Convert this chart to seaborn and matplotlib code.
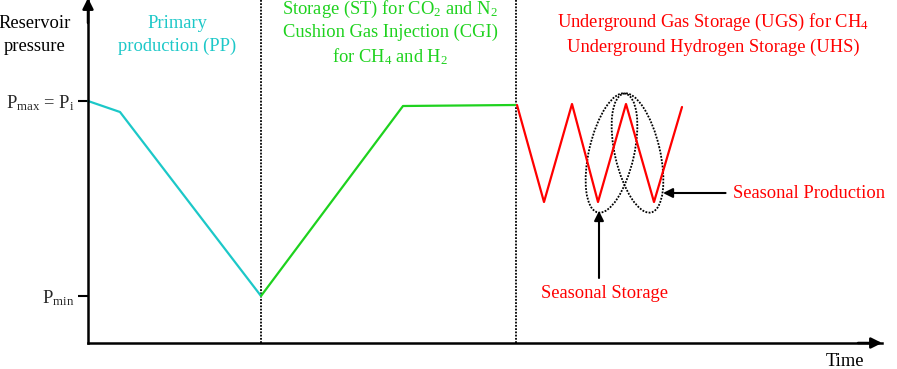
import matplotlib
matplotlib.use("Agg")
import matplotlib.pyplot as plt
import seaborn as sns
import pandas as pd
from matplotlib.patches import Ellipse

sns.set_theme(style="white")
plt.rcParams["font.family"] = ["Liberation Serif", "DejaVu Serif"]
plt.rcParams["mathtext.fontset"] = "custom"
plt.rcParams["mathtext.rm"] = "Liberation Serif"
plt.rcParams["mathtext.it"] = "Liberation Serif:italic"

# ---- data (time, pressure in schematic units) ----
pp_time = [0, 32, 173]
pp_pressure = [242, 231, 47]
cgi_time = [173, 315, 428]
cgi_pressure = [47, 237, 238]
ugs_time = [429, 456, 484, 510, 538, 566, 594]
ugs_pressure = [238, 141, 239, 141, 239, 141, 236]
phase_bounds = [173, 428]
p_ticks = [242, 47]
p_tick_labels = [r"P$_{\mathrm{max}}$ = P$_{\mathrm{i}}$", r"P$_{\mathrm{min}}$"]
phase_labels = ["Primary\nproduction (PP)",
                "Storage (ST) for CO$_2$ and N$_2$\nCushion Gas Injection (CGI)\nfor CH$_4$ and H$_2$",
                "Underground Gas Storage (UGS) for CH$_4$\nUnderground Hydrogen Storage (UHS)"]

CYAN = "#1cc8c8"
GREEN = "#1ed21e"
RED = "#ff0000"
FS = 13.3

fig = plt.figure(figsize=(8.97, 3.69), dpi=100)
ax = fig.add_axes([88/897, 26/369, 794/897, 343/369])
ax.set_xlim(0, 794)
ax.set_ylim(0, 343)

df_pp = pd.DataFrame({"t": pp_time, "p": pp_pressure})
df_cgi = pd.DataFrame({"t": cgi_time, "p": cgi_pressure})
df_ugs = pd.DataFrame({"t": ugs_time, "p": ugs_pressure})
sns.lineplot(data=df_pp, x="t", y="p", sort=False, color=CYAN, lw=1.6, ax=ax, clip_on=False)
sns.lineplot(data=df_cgi, x="t", y="p", sort=False, color=GREEN, lw=1.6, ax=ax)
sns.lineplot(data=df_ugs, x="t", y="p", sort=False, color=RED, lw=1.6, ax=ax)

for b in phase_bounds:
    ax.axvline(b, color="black", ls=(0, (1, 0.8)), lw=1.3, zorder=1)

# ellipses around seasonal cycles
ax.add_patch(Ellipse((523.5, 190), 122, 45, angle=77, fill=False, ec="black",
                     ls=(0, (1, 0.8)), lw=1.3))
ax.add_patch(Ellipse((549.5, 190), 122, 45, angle=103, fill=False, ec="black",
                     ls=(0, (1, 0.8)), lw=1.3))

# axes styling
for s in ["top", "right"]:
    ax.spines[s].set_visible(False)
for s in ["left", "bottom"]:
    ax.spines[s].set_color("black")
    ax.spines[s].set_linewidth(1.8)
ax.set_xticks([])
ax.set_yticks(p_ticks)
ax.set_yticklabels(p_tick_labels, fontsize=FS)
ax.tick_params(axis="y", left=True, length=7, width=1.5, color="black", pad=3)
ax.set_xlabel("")
ax.set_ylabel("")

# axis arrowheads
ax.annotate("", xy=(0, 345), xytext=(0, 320),
            arrowprops=dict(arrowstyle="-|>", mutation_scale=16, lw=1.8, color="black",
                            shrinkA=0, shrinkB=0), annotation_clip=False)
ax.annotate("", xy=(794, 0), xytext=(770, 0),
            arrowprops=dict(arrowstyle="-|>", mutation_scale=16, lw=1.8, color="black",
                            shrinkA=0, shrinkB=0), annotation_clip=False)

# axis titles
ax.text(-53, 308, "Reservoir\npressure", ha="center", va="center", fontsize=FS,
        linespacing=1.5, color="black")
ax.text(757, -19, "Time", ha="center", va="center", fontsize=FS, color="black")

# phase labels
ax.text(89, 308, phase_labels[0], ha="center", va="center", fontsize=FS,
        linespacing=1.5, color=CYAN)
ax.text(302, 310, phase_labels[1], ha="center", va="center", fontsize=FS,
        linespacing=1.32, color=GREEN)
ax.text(625, 309, phase_labels[2], ha="center", va="center", fontsize=FS,
        linespacing=1.45, color=RED)

# seasonal annotations
ax.annotate("Seasonal Production", xy=(575, 150), xytext=(645, 150),
            ha="left", va="center", fontsize=FS, color=RED,
            arrowprops=dict(arrowstyle="-|>", mutation_scale=14, lw=1.5, color="black",
                            shrinkA=3, shrinkB=0))
ax.annotate("", xy=(511, 132), xytext=(511, 65),
            arrowprops=dict(arrowstyle="-|>", mutation_scale=14, lw=1.5, color="black",
                            shrinkA=0, shrinkB=0))
ax.text(516, 50, "Seasonal Storage", ha="center", va="center", fontsize=FS, color=RED)

fig.savefig("out.png", dpi=100)
